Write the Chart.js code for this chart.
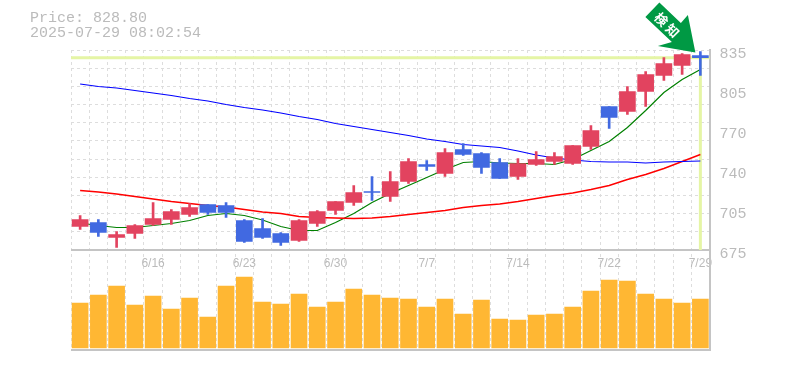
<!DOCTYPE html>
<html>
<head>
<meta charset="utf-8">
<style>
  html, body { margin: 0; padding: 0; background: #fff; }
</style>
<script src="https://cdn.jsdelivr.net/npm/chart.js@4/dist/chart.umd.min.js"></script>
</head>
<body>
<canvas id="priceChart" width="785" height="370"></canvas>
<script>
const dates = ['6/10','6/11','6/12','6/13','6/16','6/17','6/18','6/19','6/20','6/23','6/24','6/25','6/26','6/27','6/30',
  '7/1','7/2','7/3','7/4','7/7','7/8','7/9','7/10','7/11','7/14','7/15','7/16','7/17','7/18','7/22','7/23','7/24','7/25','7/28','7/29'];
const dateLabels = ['6/16','6/23','6/30','7/7','7/14','7/22','7/29'];

const opens = [693.8,697,685,688.2,695.4,699.4,703.4,711.4,710.6,698.6,692.2,688.2,682.6,696.2,706.6,713,721.8,717.8,729.8,743.4,
  736.2,755.4,752.2,745,733.8,743.4,745.8,744.2,757.8,789.8,785.8,801.8,814.6,822.6,830.6];
const closes = [699.4,689,687.4,694.6,700.2,705.8,709,705,705,681.8,685,681,698.6,705.8,713.8,721,721,729.8,745.8,741.8,
  753,751.4,741,732.2,744.2,747.4,749.8,758.6,770.6,781,801.8,815.4,824.2,831.4,828.8];
const highs = [702.6,699.4,689.8,695.4,713,707.4,712.2,711.4,713,699.4,700.2,689,699.4,706.6,713.8,726.6,733.8,737.8,748.2,746.6,
  756.2,760.2,753,748.2,748.2,753.8,753,758.6,774.6,789.8,805.8,817.8,829,832.2,833.8];
const lows = [691.4,685.8,677,684.2,694.6,695.4,701.8,703.4,701,681,684.2,678.6,681.8,693.8,703.4,710.6,714.6,713.8,728.2,738.6,
  733.8,750.6,736.2,732.2,731.4,742.6,743.4,743.4,755.4,772.2,783.4,789.8,810.6,815.4,814.6];

const maShort = [696.6,694.6,693,693,694.6,696.2,698.6,702.6,704.2,702.6,699,693.8,690.6,690.6,697,704.2,713,720.2,726.6,733,
  739.4,745,745.8,744.6,744.2,744.2,743.4,747.4,754.6,761.8,773,786.6,801,811.4,819.4];
const maMid = [722.6,721.4,719.8,717.8,715.8,713.8,712.2,710.6,709.4,707.4,705.4,704.2,701.8,701,700.6,700.2,700.6,701.8,703.4,705,
  706.6,709,710.6,711.8,713.8,716.2,718.6,720.6,723.4,726.6,731.4,735.4,740.2,745.8,751.4];
const maLong = [807.8,805.8,804.6,802.6,800.6,798.6,796.2,794.2,791.4,789,787,784.6,781.8,779.4,776.2,773.8,771.4,769,766.6,763.8,
  761.8,759.4,758.2,757,754.2,751,748.6,747,745.8,745.4,745.4,744.6,745.4,745.8,746.2];
const volumes = [45,53,62,43,52,39,50,31,62,71,46,44,54,41,46,59,53,50,49,41,49,34,48,29,28,33,34,41,57,68,67,54,49,45,49];

const priceTicks = [675,707,739,771,803,835];
const priceLabels = ['675','705','740','770','805','835'];
const titleLines = ['Price: 828.80','2025-07-29 08:02:54'];
const lastPrice = 828.80;
const arrowText = ['検','知'];

const RED = '#e2435f', BLUE = '#4169e1', GRID = '#dddddd', TEXT = '#bbbbbb', FRAME = '#c4c4c4', HILITE = '#e5f5a5', ARROW = '#009944';
const MONO = '"Liberation Mono", monospace';

// price runs over the top 2/3 of the area, volume in the rest
const priceMin = 595, priceMax = 835, priceFloor = 675, volMin = -2, volMax = 298, volTop = 98.5;

const isUp = i => closes[i] >= opens[i];
const candleColor = ctx => isUp(ctx.dataIndex) ? RED : BLUE;

const lastPriceMarker = {
  id: 'lastPriceMarker',
  beforeDatasetsDraw(chart) {
    const { ctx, chartArea, scales } = chart;
    const y = scales.y.getPixelForValue(lastPrice);
    const x = scales.x.getPixelForValue(dates.length - 1);
    ctx.save();
    ctx.strokeStyle = HILITE;
    ctx.lineWidth = 3;
    ctx.beginPath();
    ctx.moveTo(chartArea.left, y);
    ctx.lineTo(chartArea.right, y);
    ctx.moveTo(x, y);
    ctx.lineTo(x, scales.y.getPixelForValue(priceFloor));
    ctx.stroke();
    ctx.restore();
  }
};

const signalArrow = {
  id: 'signalArrow',
  afterDatasetsDraw(chart) {
    const { ctx, scales } = chart;
    const tx = scales.x.getPixelForValue(dates.length - 1) - 5;
    const ty = scales.y.getPixelForValue(highs[highs.length - 1]) + 1;
    ctx.save();
    ctx.translate(tx, ty);
    ctx.fillStyle = ARROW;
    ctx.beginPath();
    ctx.moveTo(0, 0);
    ctx.lineTo(-7.5, -37.5);
    ctx.lineTo(-14.5, -29.5);
    ctx.lineTo(-36, -50);
    ctx.lineTo(-50, -35.5);
    ctx.lineTo(-23.5, -10.5);
    ctx.lineTo(-37.5, -6.5);
    ctx.closePath();
    ctx.fill();
    ctx.fillStyle = '#fff';
    ctx.font = 'bold 13px "Noto Sans CJK JP"';
    ctx.textAlign = 'center';
    ctx.textBaseline = 'middle';
    ctx.translate(-28.5, -27.5);
    ctx.rotate(Math.PI / 4);
    ctx.fillText(arrowText[0], -8, 0);
    ctx.fillText(arrowText[1], 8, 0);
    ctx.restore();
  }
};

new Chart(document.getElementById('priceChart'), {
  data: {
    labels: dates,
    datasets: [
      { type: 'bar', label: 'Volume', data: volumes, yAxisID: 'yVol', order: 5, grouped: false,
        backgroundColor: '#ffb733', barThickness: 16 },
      { type: 'line', label: 'MA long', data: maLong, yAxisID: 'y', order: 3,
        borderColor: '#0000ff', borderWidth: 1.2, pointRadius: 0, tension: 0 },
      { type: 'line', label: 'MA mid', data: maMid, yAxisID: 'y', order: 3,
        borderColor: '#ff0000', borderWidth: 1.4, pointRadius: 0, tension: 0 },
      { type: 'line', label: 'MA short', data: maShort, yAxisID: 'y', order: 3,
        borderColor: '#008000', borderWidth: 1.2, pointRadius: 0, tension: 0 },
      { type: 'bar', label: 'Wick', data: dates.map((d, i) => [lows[i], highs[i]]), yAxisID: 'y', order: 2, grouped: false,
        backgroundColor: candleColor, barThickness: 2 },
      { type: 'bar', label: 'Body', data: dates.map((d, i) => [opens[i], closes[i]]), yAxisID: 'y', order: 1, grouped: false,
        backgroundColor: candleColor, barThickness: 16 }
    ]
  },
  options: {
    responsive: false,
    animation: false,
    layout: { padding: { left: 30, right: 0, top: 0, bottom: 20 } },
    plugins: {
      legend: { display: false },
      tooltip: { enabled: false },
      title: {
        display: true,
        text: titleLines,
        align: 'start',
        color: TEXT,
        font: { family: MONO, size: 15, weight: 'normal', lineHeight: 1 },
        padding: { top: 11, bottom: 9 }
      }
    },
    scales: {
      x: {
        position: { y: priceFloor },
        offset: true,
        grid: { color: GRID, offset: true, drawTicks: false },
        border: { display: false, dash: [3, 3] },
        ticks: {
          autoSkip: false,
          maxRotation: 0,
          padding: 6,
          color: TEXT,
          font: { family: '"Liberation Sans"', size: 12 },
          callback(value) {
            const d = dates[value];
            return dateLabels.includes(d) ? d : '';
          }
        }
      },
      y: {
        position: 'left',
        min: priceMin,
        max: priceMax,
        afterFit(s) { s.width = 20; },
        afterBuildTicks(s) {
          const step = (priceMax - priceFloor) / 11;
          s.ticks = Array.from({ length: 11 }, (_, i) => ({ value: priceMax - step * i }));
        },
        grid: { color: GRID, drawTicks: false },
        border: { display: false, dash: [3, 3] },
        ticks: { display: false }
      },
      yVol: {
        position: 'left',
        min: volMin,
        max: volMax,
        afterFit(s) { s.width = 21; },
        afterBuildTicks(s) { s.ticks = [{ value: volMin }, { value: volTop }]; },
        grid: { color: FRAME, lineWidth: 2, drawTicks: false },
        border: { display: false },
        ticks: { display: false }
      },
      yPriceLabels: {
        position: 'right',
        min: priceMin,
        max: priceMax,
        afterFit(s) { s.width = 75.5; },
        afterBuildTicks(s) { s.ticks = priceTicks.map(v => ({ value: v })); },
        grid: { display: false, drawTicks: false },
        border: { color: FRAME, width: 2 },
        ticks: {
          padding: 10,
          labelOffset: 4,
          color: TEXT,
          font: { family: MONO, size: 15 },
          callback(value) { return priceLabels[priceTicks.indexOf(value)]; }
        }
      }
    }
  },
  plugins: [lastPriceMarker, signalArrow]
});
</script>
</body>
</html>
